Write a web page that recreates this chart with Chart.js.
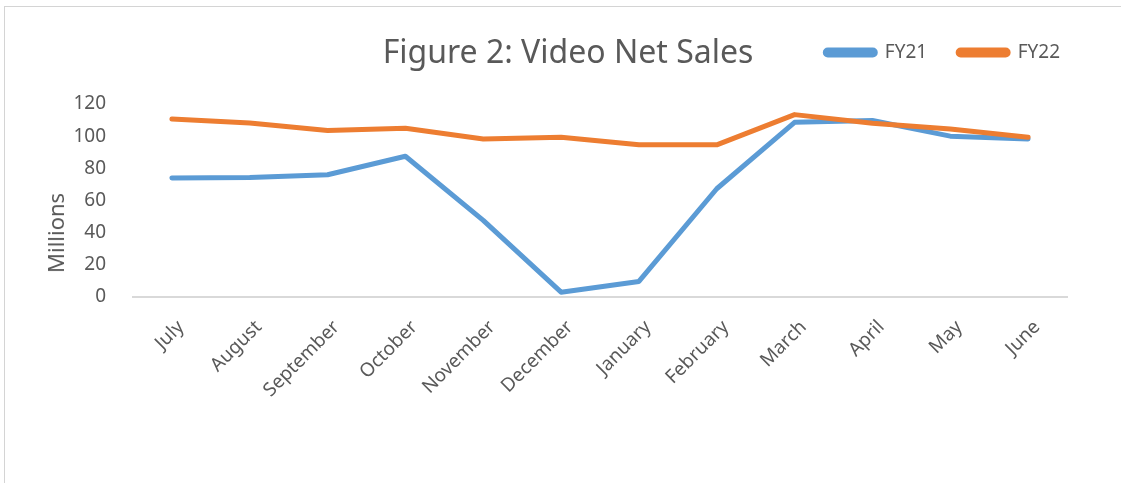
<!DOCTYPE html>
<html>
<head>
<meta charset="utf-8">
<script src="https://cdn.jsdelivr.net/npm/chart.js@4"></script>
<style>
  html, body { margin: 0; padding: 0; background: #fff; overflow: hidden; }
  #wrap { position: relative; width: 1121px; height: 483px; }
  #frame { position: absolute; left: 4px; top: 6px; width: 1200px; height: 600px; border: 1px solid #d4d4d4; }
  #title { position: absolute; left: 0; width: 1136px; top: 31px; text-align: center;
           font: 32px "Noto Sans"; line-height: 40px; color: #595959; }
  #ytitle { position: absolute; left: 55px; top: 233px; transform: translate(-50%, -50%) rotate(-90deg);
            font: 22px "Noto Sans"; color: #595959; white-space: nowrap; }
  canvas { position: absolute; left: 0; top: 0; }
</style>
</head>
<body>
<div id="wrap">
  <div id="frame"></div>
  <canvas id="salesChart" width="1121" height="483"></canvas>
  <div id="title">Figure 2: Video Net Sales</div>
  <div id="ytitle">Millions</div>
</div>
<script>
const months = ["July", "August", "September", "October", "November", "December",
                "January", "February", "March", "April", "May", "June"];
const fy21 = [74, 74.3, 76, 87.5, 47.6, 3, 9.7, 67.3, 108.6, 109.7, 100, 98.3];
const fy22 = [110.7, 108.2, 103.5, 104.9, 98.3, 99.3, 94.6, 94.6, 113.4, 108, 104.5, 99.3];
const yTicks = [0, 20, 40, 60, 80, 100, 120];

const textGray = "#595959";
const font = "'Noto Sans', sans-serif";

// legend sits on the title row, plot area starts below it
const legendSpace = {
  id: "legendSpace",
  beforeInit(chart) {
    const legend = chart.legend;
    const fit = legend.fit;
    legend.fit = function () {
      fit.bind(legend)();
      this.height = 92;
    };
    const draw = legend.draw;
    legend.draw = function () {
      chart.ctx.save();
      chart.ctx.translate(24, 0); // legend runs a bit past the plot's right edge
      draw.bind(legend)();
      chart.ctx.restore();
    };
  },
};

new Chart(document.getElementById("salesChart").getContext("2d"), {
  type: "line",
  data: {
    labels: months,
    datasets: [
      {
        label: "FY21",
        data: fy21,
        borderColor: "#5B9BD5",
        backgroundColor: "#5B9BD5",
        order: 1,
      },
      {
        label: "FY22",
        data: fy22,
        borderColor: "#ED7D31",
        backgroundColor: "#ED7D31",
        order: 0,
      },
    ],
  },
  options: {
    responsive: false,
    animation: false,
    layout: { padding: { top: 12, right: 54, left: 0, bottom: 0 } },
    elements: {
      line: { borderWidth: 5, tension: 0, borderCapStyle: "round", borderJoinStyle: "round" },
      point: { radius: 0 },
    },
    plugins: {
      title: { display: false },
      tooltip: { enabled: false },
      legend: {
        position: "top",
        align: "end",
        labels: {
          boxWidth: 50,
          boxHeight: 5,
          useBorderRadius: true,
          borderRadius: 2.5,
          padding: 31,
          color: textGray,
          font: { family: font, size: 19 },
          sort: (a, b) => a.datasetIndex - b.datasetIndex,
        },
      },
    },
    scales: {
      x: {
        offset: true,
        grid: { display: false, drawTicks: false },
        border: { color: "#d9d9d9", width: 2 },
        ticks: {
          color: textGray,
          font: { family: font, size: 19 },
          autoSkip: false,
          minRotation: 45,
          maxRotation: 45,
          padding: 19,
          labelOffset: 9,
        },
        afterFit: (scale) => { scale.height = 186; },
      },
      y: {
        min: 0,
        max: 120,
        grid: { display: false, drawTicks: false },
        border: { display: false },
        ticks: {
          color: textGray,
          font: { family: font, size: 19 },
          padding: 27,
        },
        afterBuildTicks: (scale) => { scale.ticks = yTicks.map((v) => ({ value: v })); },
        afterFit: (scale) => { scale.width = 133; },
      },
    },
  },
  plugins: [legendSpace],
});
</script>
</body>
</html>
